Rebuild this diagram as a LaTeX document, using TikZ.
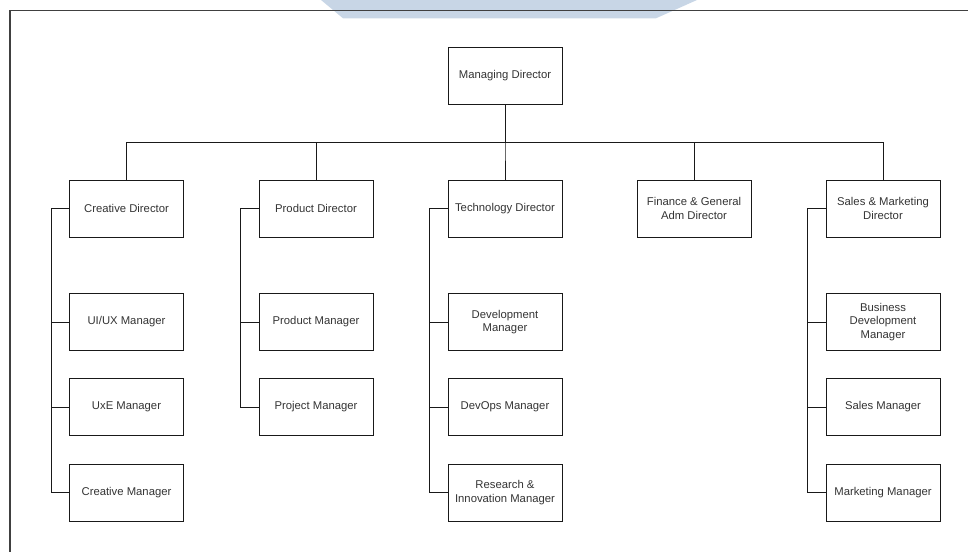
\documentclass[tikz,border=0pt]{standalone}
\usepackage{fontspec}
\setmainfont{Liberation Sans}
\definecolor{markblue}{RGB}{200,214,230}
\begin{document}
\begin{tikzpicture}
[x=1pt,y=-1pt,
  boxdecorate/.style={shape=rectangle,draw=black!90,line width=1pt,
    minimum width=114pt,minimum height=57pt,inner sep=2pt,align=center,
    text=black!80,font=\fontsize{11.3}{13.8}\selectfont},
  linedecorate/.style={-,draw=black!90,line width=1pt},
  framedecorate/.style={draw=black!75,line width=1.6pt}]
\useasboundingbox (0,0) rectangle (968,552);
%% background mark and frame
\fill[markblue] (321,0) -- (697,0) -- (656,18.3) -- (343,18.3) -- cycle;
\draw[framedecorate] (968,10.5) -- (9.7,10.5) -- (9.7,552);
%% top node
\node (md) at (505,76) [boxdecorate] {Managing Director};
\coordinate (bus) at (505,142);
%% directors
\foreach \nodename/\x/\txt in {cd/126.5/Creative Director, pd/316/Product Director,
    td/505/Technology Director, fd/694/{Finance \& General\\Adm Director},
    sd/883/{Sales \& Marketing\\Director}} {
  \node (\nodename) at (\x,208.5) [boxdecorate] {\txt};
}
%% managers
\foreach \nodename/\x/\y/\txt in {cm1/126.5/322/{UI/UX Manager}, cm2/126.5/407/UxE Manager,
    cm3/126.5/492.5/Creative Manager, pm1/316/322/Product Manager,
    pm2/316/407/Project Manager, tm1/505/322/{Development\\Manager},
    tm2/505/407/DevOps Manager, tm3/505/492.5/{Research \&\\Innovation Manager},
    sm1/883/322/{Business\\Development\\Manager}, sm2/883/407/Sales Manager,
    sm3/883/492.5/Marketing Manager} {
  \node (\nodename) at (\x,\y) [boxdecorate] {\txt};
}
%% lines from the top
\foreach \endnode in {cd, pd, td, fd, sd} {
  \draw[linedecorate] (md.south) -- (bus) -| (\endnode.north);
}
%% lines to the managers
\foreach \startnode/\endnode in {cd/cm1, cd/cm2, cd/cm3, pd/pm1, pd/pm2,
    td/tm1, td/tm2, td/tm3, sd/sm1, sd/sm2, sd/sm3} {
  \draw[linedecorate] (\startnode.west) -- ++(-18,0) |- (\endnode.west);
}
\end{tikzpicture}
\end{document}
